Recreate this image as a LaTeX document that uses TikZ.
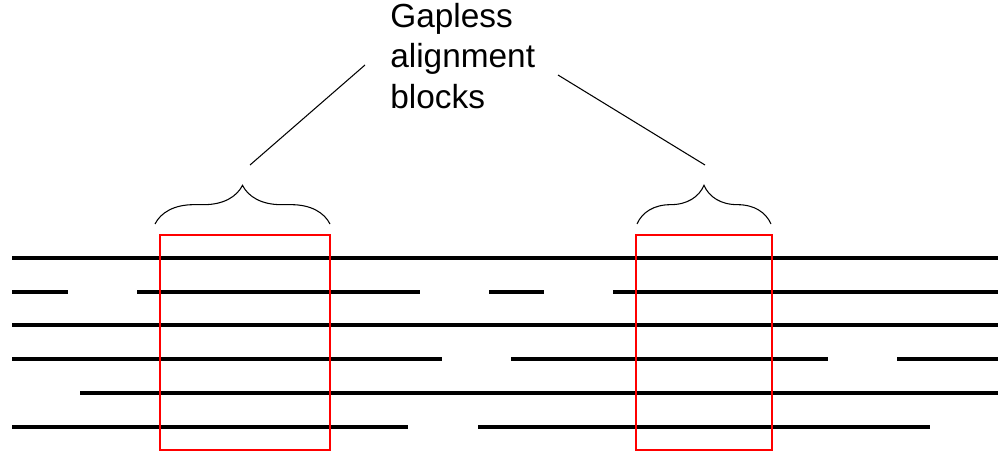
\documentclass[tikz,border=0pt]{standalone}
\usepackage{fontspec}
\setmainfont{Liberation Sans}
\usetikzlibrary{decorations.pathreplacing}
\tikzset{
seq/.style={line width=2.8pt}, % Aligned sequences
block/.style={draw=red, line width=1.2pt}, % Gapless blocks
grp/.style={decorate, decoration={brace, amplitude=22pt}, semithick},
pointer/.style={semithick}}
\begin{document}
\begin{tikzpicture}[x=0.02cm, y=-0.02cm]
	\useasboundingbox (0,0) rectangle (1004,456);
	% sequences
	\draw[seq] (12,258) -- (998,258);
	\draw[seq] (12,292) -- (68,292) (137,292) -- (420,292) (489,292) -- (544,292) (613,292) -- (998,292);
	\draw[seq] (12,325) -- (998,325);
	\draw[seq] (12,359) -- (442,359) (511,359) -- (828,359) (897,359) -- (998,359);
	\draw[seq] (80,393) -- (998,393);
	\draw[seq] (12,427) -- (408,427) (478,427) -- (930,427);
	% blocks
	\draw[block] (160,235) rectangle (330,450);
	\draw[block] (636,235) rectangle (772,450);
	% braces
	\coordinate (b1) at (242,165);
	\coordinate (b2) at (705,165);
	\draw[grp] (155,224) -- (330,224);
	\draw[grp] (637,224) -- (771,224);
	% label
	\node[align=left, anchor=north west, inner sep=0pt, font=\fontsize{19}{23}\selectfont] (lbl) at (390,3) {Gapless\\alignment\\blocks};
	\draw[pointer] (250,165) -- (365,65);
	\draw[pointer] (b2) -- (558,75);
\end{tikzpicture}
\end{document}
